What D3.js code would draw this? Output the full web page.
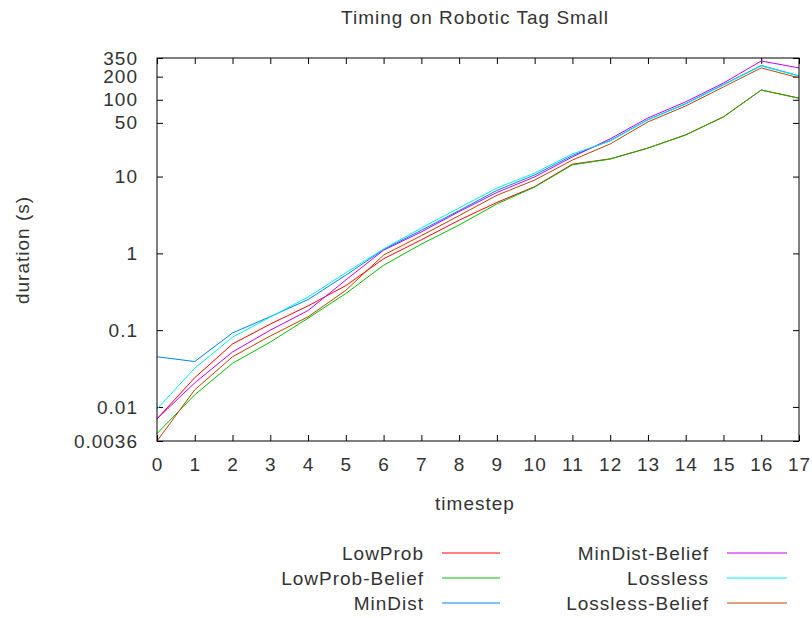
<!DOCTYPE html>
<html><head><meta charset="utf-8">
<script src="https://cdn.jsdelivr.net/npm/d3@7"></script>
<style>
body{margin:0;background:#fff;}
text{font-family:"Liberation Sans",Arial,sans-serif;fill:#333;letter-spacing:1px;}
</style></head>
<body><svg id="c" width="812" height="618"></svg>
<script>
const timesteps = [0,1,2,3,4,5,6,7,8,9,10,11,12,13,14,15,16,17];
const lowProb       = [0.007,0.024,0.066,0.12,0.207,0.38,0.85,1.5,2.7,4.6,7.4,14.5,17,23.5,35,60,134,105];
const lowProbBelief = [0.0045,0.0144,0.037,0.070,0.143,0.30,0.70,1.32,2.34,4.4,7.3,14.2,16.9,23.5,34.8,59.7,134,105];
const minDist       = [0.045,0.039,0.092,0.15,0.25,0.52,1.12,2.0,3.6,6.6,10.5,18.8,29.5,55,89,158,280,205];
const minDistBelief = [0.007,0.0206,0.052,0.10,0.18,0.45,1.1,1.9,3.5,6.2,9.9,18,31,58,94,165,320,260];
const lossless      = [0.0094,0.032,0.081,0.148,0.27,0.56,1.14,2.14,3.9,7.1,11.1,19.7,29,54.6,88,156,276,204];
const losslessBelief= [0.0036,0.0167,0.045,0.084,0.149,0.33,0.95,1.7,3.1,5.7,9.0,16.4,26.6,51.5,83,147,260,193];
const seriesNames = ["LowProb","LowProb-Belief","MinDist","MinDist-Belief","Lossless","Lossless-Belief"];
const seriesValues = [lowProb,lowProbBelief,minDist,minDistBelief,lossless,losslessBelief];
const seriesColors = ["#ff0000","#00c000","#0080ff","#c000ff","#00eeee","#c04000"];
const yTicks = [0.0036,0.01,0.1,1,10,50,100,200,350];
const yTickLabels = ["0.0036","0.01","0.1","1","10","50","100","200","350"];
const title = "Timing on Robotic Tag Small";
const xTitle = "timestep";
const yTitle = "duration (s)";

const svg = d3.select("#c");
const L=157,R=799,T=58,B=441;
const x = d3.scaleLinear().domain([0,17]).range([L,R]);
const y = d3.scaleLog().domain([0.0036,350]).range([B,T]);
const fs = 19;

function styleAxis(g){
  g.select(".domain").remove();
  g.selectAll("line").attr("stroke","#000");
  g.selectAll("text").style("font-size",fs+"px").attr("fill","#333");
}
svg.append("g").attr("transform",`translate(0,${B})`)
  .call(d3.axisBottom(x).tickValues(timesteps).tickFormat(d3.format("d")).tickSize(-6).tickPadding(17))
  .call(styleAxis);
svg.append("g").attr("transform",`translate(0,${T})`)
  .call(d3.axisTop(x).tickValues(timesteps).tickFormat("").tickSize(-6))
  .call(styleAxis);
svg.append("g").attr("transform",`translate(${L},0)`)
  .call(d3.axisLeft(y).tickValues(yTicks).tickFormat((d,i)=>yTickLabels[i]).tickSize(-6).tickPadding(19))
  .call(styleAxis);
svg.append("g").attr("transform",`translate(${R},0)`)
  .call(d3.axisRight(y).tickValues(yTicks).tickFormat("").tickSize(-6))
  .call(styleAxis);

const line = d3.line().x((d,i)=>x(timesteps[i])).y(d=>y(d));
seriesValues.forEach((vals,k)=>{
  svg.append("path").datum(vals).attr("d",line).attr("fill","none")
    .attr("stroke",seriesColors[k]).attr("stroke-width",1);
});

svg.append("rect").attr("x",L).attr("y",T).attr("width",R-L).attr("height",B-T)
  .attr("fill","none").attr("stroke","#000").attr("stroke-width",1);

svg.append("text").attr("x",475).attr("y",24).attr("text-anchor","middle").style("font-size",fs+"px").text(title);
svg.append("text").attr("x",475).attr("y",510).attr("text-anchor","middle").style("font-size",fs+"px").text(xTitle);
svg.append("text").attr("transform","translate(29,250) rotate(-90)").attr("text-anchor","middle").style("font-size",fs+"px").text(yTitle);

const legX = [[424,442,500],[709,727,787]];
const legY = [553,578,603];
seriesNames.forEach((n,k)=>{
  const col = Math.floor(k/3), row = k%3;
  const [tx,l1,l2] = legX[col];
  svg.append("text").attr("x",tx).attr("y",legY[row]).attr("dy","0.35em").attr("text-anchor","end").style("font-size",fs+"px").text(n);
  svg.append("line").attr("x1",l1).attr("x2",l2).attr("y1",legY[row]).attr("y2",legY[row])
    .attr("stroke",seriesColors[k]).attr("stroke-width",1);
});
</script></body></html>
